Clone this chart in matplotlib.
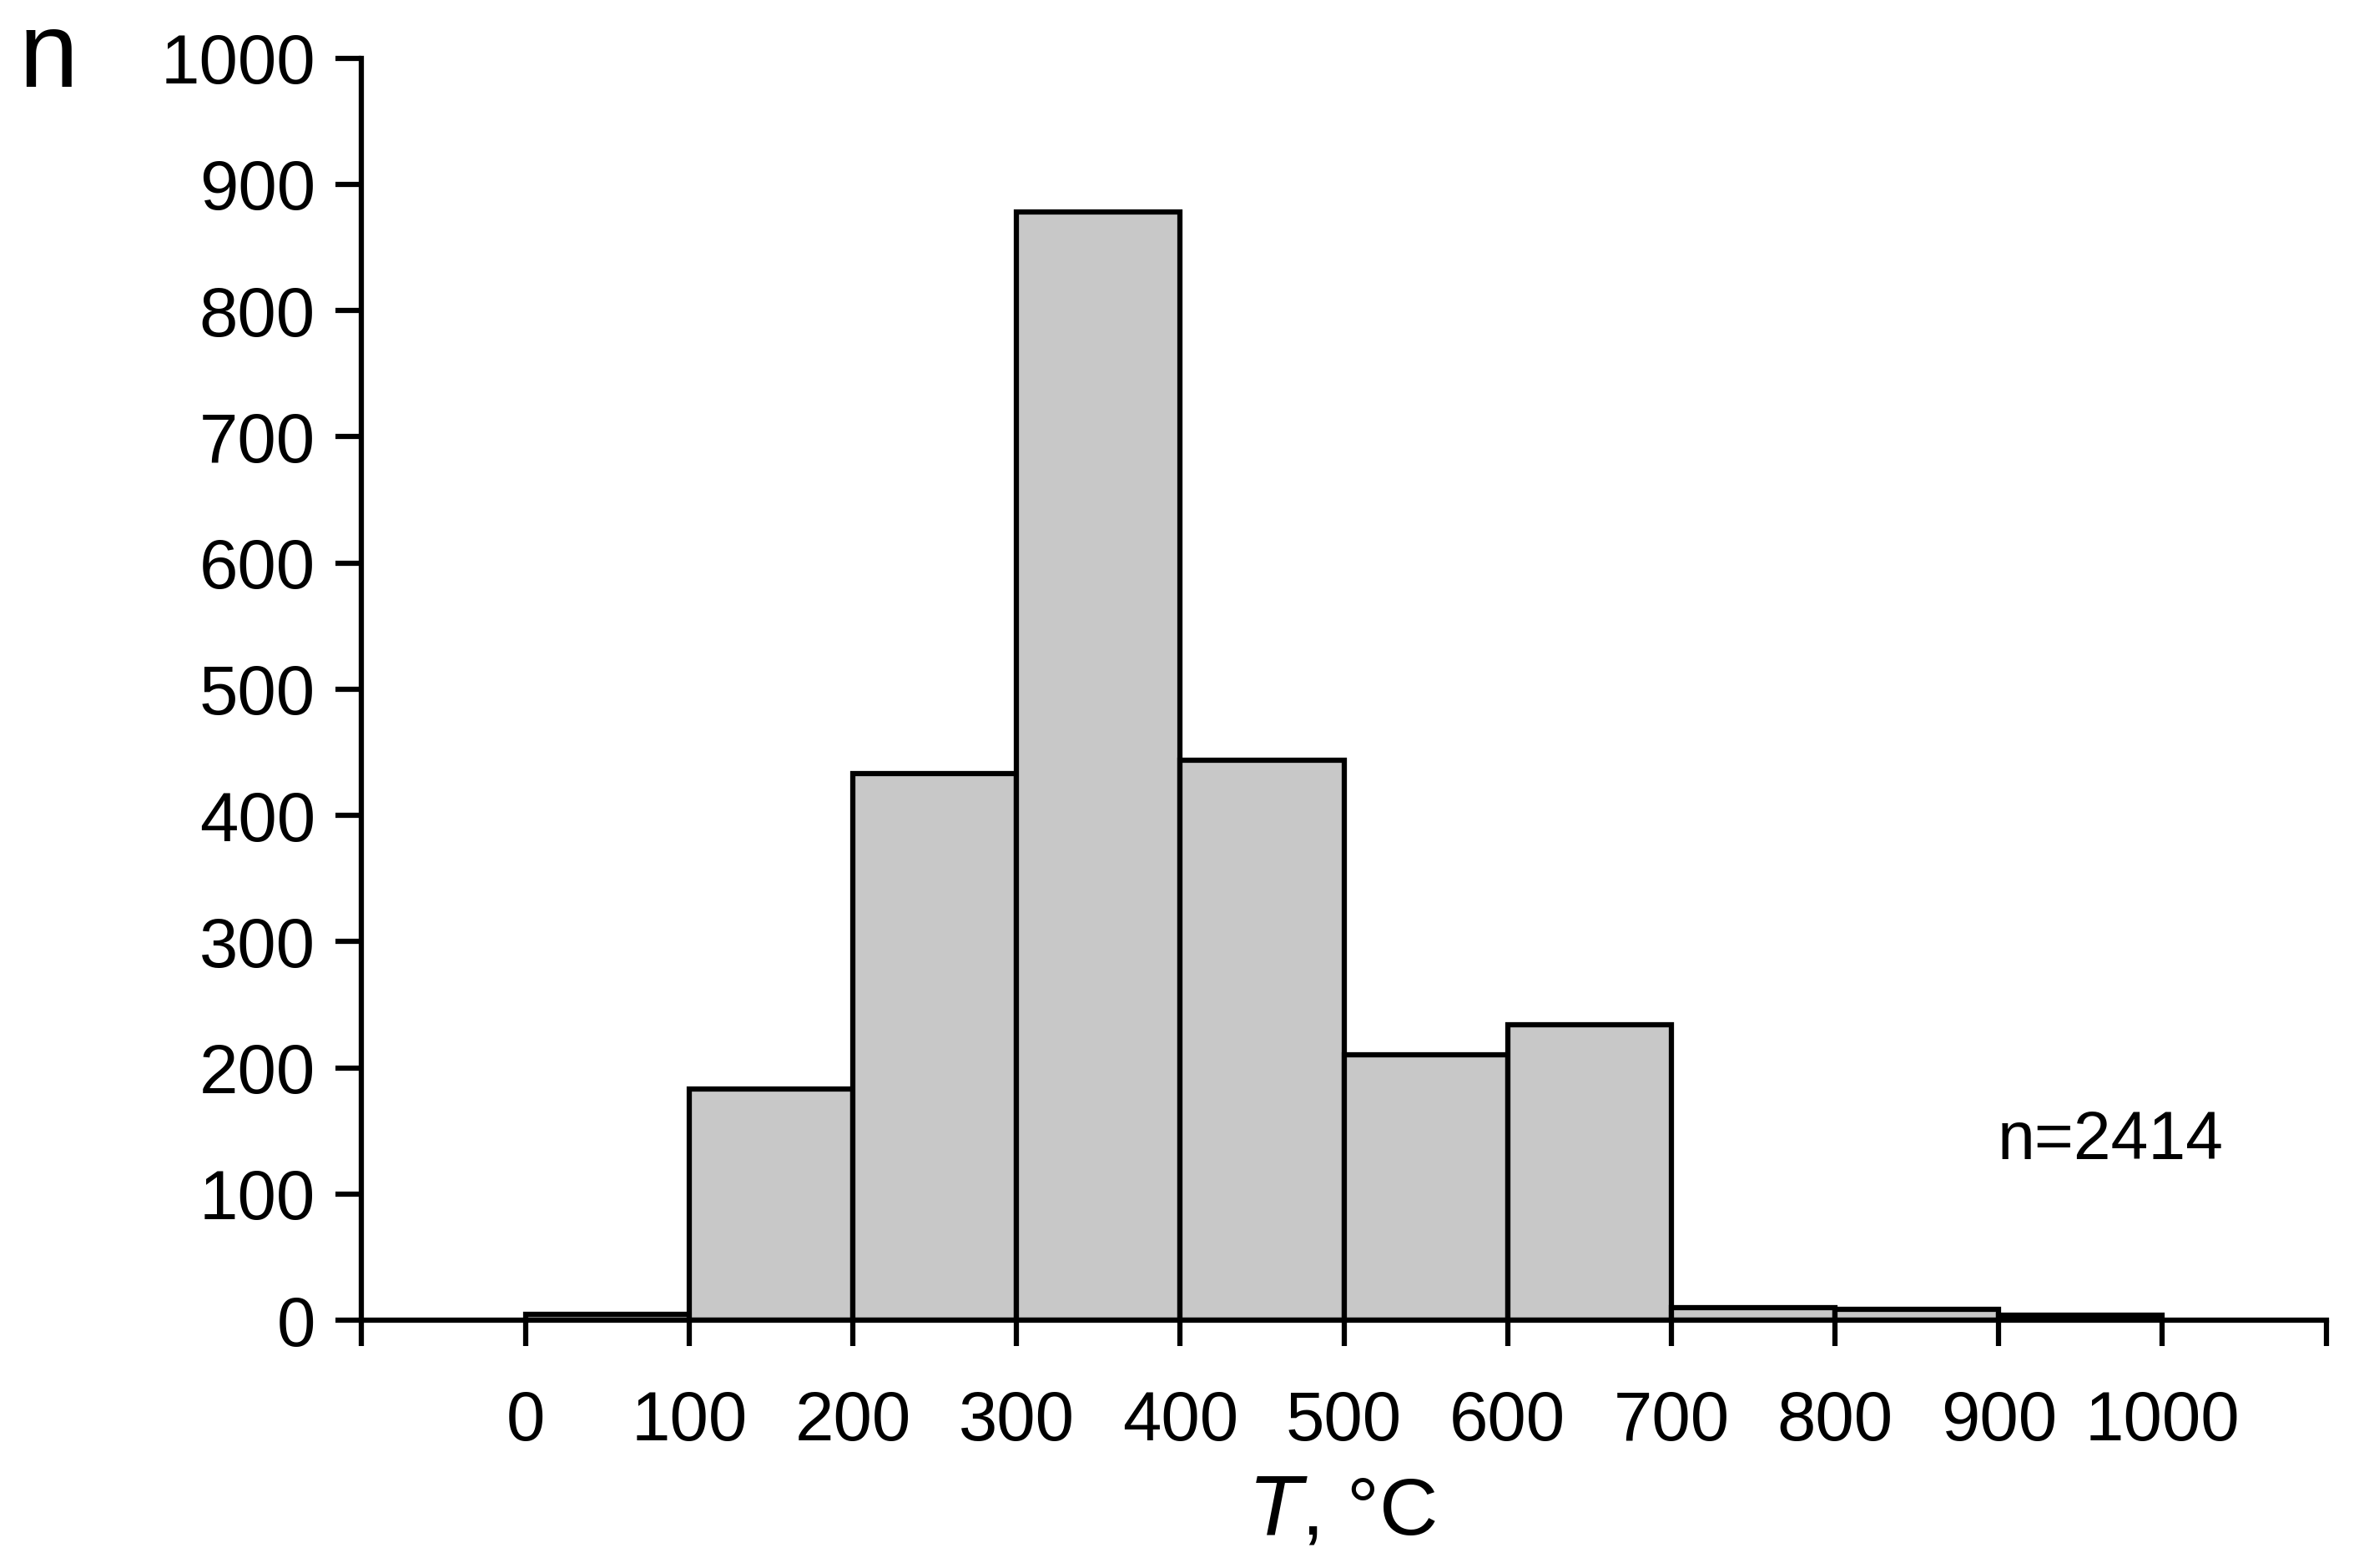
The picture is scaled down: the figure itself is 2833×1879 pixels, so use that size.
import matplotlib.pyplot as plt

bin_left = [0, 100, 200, 300, 400, 500, 600, 700, 800, 900]
counts = [5, 183, 433, 878, 444, 210, 234, 10, 9, 4]
x_ticks = list(range(-100, 1101, 100))
x_labels = ["" if (t < 0 or t > 1000) else str(t) for t in x_ticks]
y_ticks = list(range(0, 1001, 100))

plt.rcParams["font.family"] = ["Liberation Sans", "DejaVu Sans"]
fig = plt.figure(figsize=(28.33, 18.79), dpi=100)
ax = fig.add_axes([0.153, 0.158, 0.831, 0.805])

ax.bar(bin_left, counts, width=100, align="edge", color="#c8c8c8",
       edgecolor="black", linewidth=4.5)

ax.set_xlim(-100, 1100)
ax.set_ylim(0, 1000)
ax.set_xticks(x_ticks)
ax.set_xticklabels(x_labels)
ax.set_yticks(y_ticks)
for s in ["top", "right"]:
    ax.spines[s].set_visible(False)
for s in ["left", "bottom"]:
    ax.spines[s].set_linewidth(4.5)
ax.tick_params(axis="both", labelsize=60, width=4.5, length=22)
ax.tick_params(axis="x", pad=38)
ax.tick_params(axis="y", pad=18)

fig.text(0.845, 0.272, "n=2414", fontsize=58, ha="left", va="center")
fig.text(0.008, 0.962, "n", fontsize=92, ha="left", va="center")
ax.set_xlabel(r"$\it{T}$, °C", fontsize=70, labelpad=18)

fig.savefig("out.png", dpi=100)
